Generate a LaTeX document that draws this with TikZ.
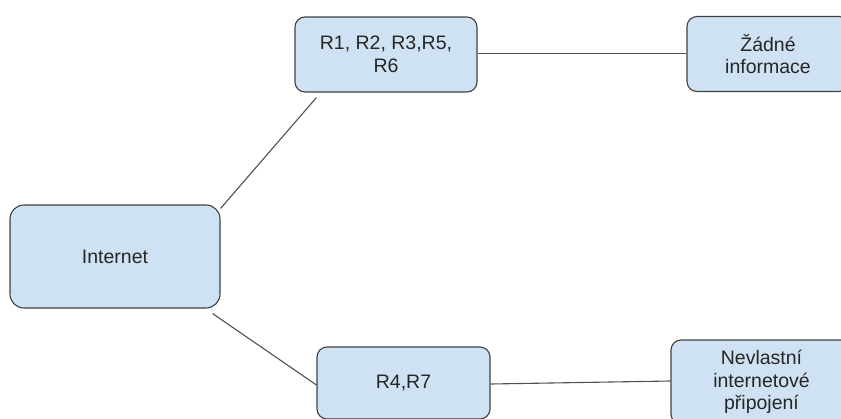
\documentclass[tikz,border=0pt]{standalone}
\usepackage{fontspec}
\setmainfont{Liberation Sans}
\usetikzlibrary{calc}
\definecolor{boxfill}{HTML}{CFE2F3}
\definecolor{boxline}{HTML}{404040}
\definecolor{wirecol}{HTML}{505050}
\definecolor{txt}{HTML}{262626}
\begin{document}
\begin{tikzpicture}[x=1pt,y=-1pt,
  box/.style={draw=boxline, fill=boxfill, line width=1.1pt, rounded corners=10pt,
    align=center, text=txt, font=\fontsize{19.5}{22.5}\selectfont, inner sep=0pt},
  wire/.style={draw=wirecol, line width=1.1pt}]
\useasboundingbox (0,0) rectangle (841,418);
\clip (0,0) rectangle (841,418);
\node[box, minimum width=210pt, minimum height=103pt, rounded corners=14pt] (inet) at (115,256.5) {Internet};
\node[box, minimum width=182pt, minimum height=75pt] (r1) at (386,54.5) {R1, R2, R3,R5,\\R6};
\node[box, minimum width=162pt, minimum height=75pt] (zi) at (768,54) {Žádné\\informace};
\node[box, minimum width=173pt, minimum height=72pt] (r4) at (403.5,383) {R4,R7};
\node[box, minimum width=181pt, minimum height=84pt] (nv) at (761.5,382) {Nevlastní\\internetové\\připojení};
\draw[wire] ($(inet.north east)+(0,4)$) -- ($(r1.south west)+(22,5)$);
\draw[wire] ($(inet.south east)+(-8,5)$) -- ($(r4.west)+(0,2)$);
\draw[wire] ($(r1.east)+(0,-1)$) -- ($(zi.west)+(0,-0.5)$);
\draw[wire] ($(r4.east)+(0,1)$) -- ($(nv.west)+(0,-1)$);
\end{tikzpicture}
\end{document}
